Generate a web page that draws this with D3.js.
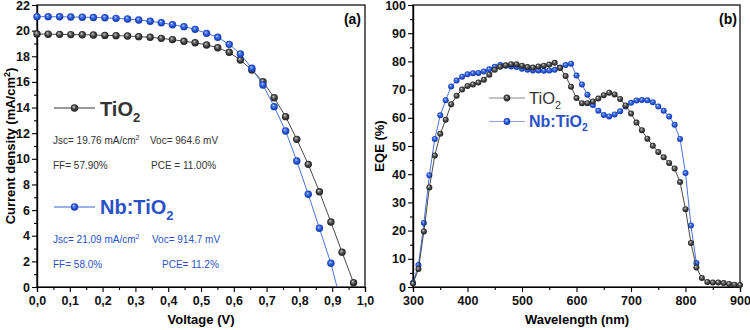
<!DOCTYPE html>
<html>
<head>
<meta charset="utf-8">
<script src="https://cdn.jsdelivr.net/npm/d3@7"></script>
<style>
body { margin: 0; background: #fff; }
svg text { font-family: "Liberation Sans", Arial, sans-serif; }
</style>
</head>
<body>
<div id="container"></div>
<script>
// (a) J-V data
const voltage = [0.000, 0.034, 0.069, 0.103, 0.138, 0.172, 0.207, 0.241, 0.276, 0.310, 0.345, 0.379, 0.413, 0.448,
    0.482, 0.517, 0.551, 0.586, 0.620, 0.655, 0.689, 0.723, 0.758, 0.792, 0.827, 0.861, 0.896, 0.930, 0.965]
const jTiO2 = [19.74, 19.72, 19.71, 19.69, 19.68, 19.66, 19.63, 19.61, 19.58, 19.53, 19.48, 19.40, 19.30, 19.17,
    19.06, 18.88, 18.67, 18.31, 17.71, 16.93, 16.02, 14.77, 13.29, 11.52, 9.57, 7.43, 5.07, 2.71, 0.34]
const jNb = [21.09, 21.09, 21.08, 21.06, 21.05, 21.03, 21.00, 20.96, 20.91, 20.83, 20.73, 20.62, 20.46, 20.31,
    20.10, 19.79, 19.48, 18.93, 18.18, 17.06, 15.76, 14.07, 12.17, 9.83, 7.23, 4.58, 1.85]
const vocTiO2 = 0.9646
const vocNb = 0.9147

// (b) EQE data
const wavelength = [300, 310, 320, 330, 340, 350, 360, 370, 380, 390, 400, 410, 420, 430, 440, 450, 460, 470, 480, 490,
    500, 510, 520, 530, 540, 550, 560, 570, 580, 590, 600, 610, 620, 630, 640, 650, 660, 670, 680, 690,
    700, 710, 720, 730, 740, 750, 760, 770, 780, 790, 800, 810, 820, 830, 840, 850, 860, 870, 880, 890, 900]
const eqeTiO2 = [1.2, 6.4, 19.7, 35.3, 46.6, 54.3, 59.3, 64.8, 67.8, 70.0, 71.3, 71.8, 72.5, 73.5, 75.3, 77.0, 78.1, 78.6, 79.0, 79.0,
    78.5, 78.0, 77.8, 78.2, 78.5, 78.9, 79.5, 77.7, 74.8, 71.0, 67.0, 65.2, 65.2, 65.8, 66.8, 68.0, 68.9, 68.3, 66.7, 64.4,
    61.5, 58.3, 55.6, 52.6, 50.1, 47.9, 46.0, 44.0, 42.0, 37.2, 27.6, 15.6, 6.9, 3.2, 1.8, 1.6, 1.6, 1.4, 1.1, 0.8, 0.7]
const eqeNb = [1.5, 7.8, 22.7, 39.6, 52.5, 60.9, 66.2, 71.1, 73.2, 74.6, 75.4, 75.8, 75.9, 76.4, 77.2, 78.1, 78.7, 78.5, 78.2, 78.0,
    77.4, 77.0, 76.8, 76.8, 76.7, 76.8, 77.0, 77.8, 78.7, 79.2, 75.0, 71.8, 68.2, 64.5, 62.5, 61.0, 60.5, 61.2, 62.3, 64.0,
    65.3, 66.1, 66.3, 66.2, 65.5, 64.0, 62.5, 60.5, 57.5, 52.5, 40.4, 21.8, 8.5]

const voltTicks = [0, 0.1, 0.2, 0.3, 0.4, 0.5, 0.6, 0.7, 0.8, 0.9, 1.0]
const jTicks = [0, 2, 4, 6, 8, 10, 12, 14, 16, 18, 20, 22]
const wlTicks = [300, 400, 500, 600, 700, 800, 900]
const eqeTicks = [0, 10, 20, 30, 40, 50, 60, 70, 80, 90, 100]

const darkCol = '#333'
const blueCol = '#2a52c8'

const width = 750
const height = 330
const svg = d3.select('#container').append('svg').attr('width', width).attr('height', height)

// sphere gradients
const defs = svg.append('defs')
const addGrad = (id, stops) => {
    const g = defs.append('radialGradient').attr('id', id)
        .attr('cx', '50%').attr('cy', '50%').attr('r', '55%').attr('fx', '38%').attr('fy', '32%')
    stops.forEach(s => g.append('stop').attr('offset', s[0]).attr('stop-color', s[1]))
}
addGrad('gDark', [['0%', '#e0e0e0'], ['22%', '#8a8a8a'], ['60%', '#3a3a3a'], ['100%', '#1b1b1b']])
addGrad('gBlue', [['0%', '#dfe8ff'], ['22%', '#5f8af0'], ['60%', '#2352d2'], ['100%', '#12319a']])

const comma = d => d3.format('.1f')(d).replace('.', ',')

const drawAxes = (x, y, xt, yt, xMinor, yMinor, fmtX) => {
    const [x0, x1] = x.range()
    const [y0, y1] = y.range()
    const g = svg.append('g')
    g.append('rect').attr('x', x0).attr('y', y1).attr('width', x1 - x0).attr('height', y0 - y1)
        .attr('fill', 'none').attr('stroke', '#000').attr('stroke-width', 1.2)

    g.append('g').attr('transform', `translate(0, ${y0})`)
        .call(d3.axisBottom(x).tickValues(xMinor).tickSize(3).tickFormat(''))
    g.append('g').attr('transform', `translate(0, ${y0})`)
        .call(d3.axisBottom(x).tickValues(xt).tickSize(5).tickPadding(4).tickFormat(fmtX))
    g.append('g').attr('transform', `translate(${x0}, 0)`)
        .call(d3.axisLeft(y).tickValues(yMinor).tickSize(3).tickFormat(''))
    g.append('g').attr('transform', `translate(${x0}, 0)`)
        .call(d3.axisLeft(y).tickValues(yt).tickSize(5).tickPadding(2).tickFormat(d3.format('d')))

    g.selectAll('.domain').attr('stroke', '#000').attr('stroke-width', 1.2)
    g.selectAll('.tick line').attr('stroke', '#000').attr('stroke-width', 1.1)
    g.selectAll('.tick text').attr('font-size', 12.5).attr('font-weight', 'bold').attr('fill', '#111')
        .style('font-family', '"Liberation Sans", Arial, sans-serif')
}

const drawSeries = (x, y, xs, ys, lineEnd, color, grad, r) => {
    const pts = xs.slice(0, ys.length).map((v, i) => [v, ys[i]])
    const linePts = lineEnd ? pts.concat([lineEnd]) : pts
    svg.append('path').datum(linePts)
        .attr('d', d3.line().x(d => x(d[0])).y(d => y(d[1])))
        .attr('fill', 'none').attr('stroke', color).attr('stroke-width', 0.9)
    svg.append('g').selectAll('circle').data(pts).enter().append('circle')
        .attr('cx', d => x(d[0])).attr('cy', d => y(d[1])).attr('r', r)
        .attr('fill', `url(#${grad})`)
}

const legendItem = (x0, x1, yy, color, grad, r, lineCol) => {
    svg.append('line').attr('x1', x0).attr('x2', x1).attr('y1', yy).attr('y2', yy)
        .attr('stroke', lineCol).attr('stroke-width', 1)
    svg.append('circle').attr('cx', (x0 + x1) / 2).attr('cy', yy).attr('r', r).attr('fill', `url(#${grad})`)
}

const chemText = (x, y, pre, size, weight, color) => {
    const t = svg.append('text').attr('x', x).attr('y', y).attr('font-size', size)
        .attr('font-weight', weight).attr('fill', color)
    t.append('tspan').text(pre + 'TiO')
    t.append('tspan').attr('dy', size * 0.28).attr('font-size', size * 0.65).text('2')
}

const plainText = (x, y, txt, color, sup) => {
    const t = svg.append('text').attr('x', x).attr('y', y).attr('font-size', 10).attr('fill', color)
    t.append('tspan').text(txt)
    if (sup) t.append('tspan').attr('dy', -4).attr('font-size', 7).text(sup)
}

// ----- panel (a)
const xA = d3.scaleLinear().domain([0, 1]).range([37, 365])
const yA = d3.scaleLinear().domain([0, 22]).range([287, 5])
drawAxes(xA, yA, voltTicks, jTicks,
    [0.05, 0.15, 0.25, 0.35, 0.45, 0.55, 0.65, 0.75, 0.85, 0.95],
    [1, 3, 5, 7, 9, 11, 13, 15, 17, 19, 21], comma)

drawSeries(xA, yA, voltage, jTiO2, [vocTiO2, 0], darkCol, 'gDark', 3.7)
drawSeries(xA, yA, voltage, jNb, [vocNb, 0], '#3563d6', 'gBlue', 3.7)

legendItem(54, 95, 108, darkCol, 'gDark', 3.7, darkCol)
chemText(100, 116, '', 20, 'bold', darkCol)
plainText(53, 144, 'Jsc= 19.76 mA/cm', darkCol, '2')
plainText(150, 144, 'Voc= 964.6 mV', darkCol)
plainText(53, 169, 'FF= 57.90%', darkCol)
plainText(151, 169, 'PCE = 11.00%', darkCol)

legendItem(54, 95, 207, blueCol, 'gBlue', 3.7, '#3563d6')
chemText(100, 214, 'Nb:', 20, 'bold', blueCol)
plainText(53, 243, 'Jsc= 21.09 mA/cm', blueCol, '2')
plainText(152, 243, 'Voc= 914.7 mV', blueCol)
plainText(53, 268, 'FF= 58.0%', blueCol)
plainText(162, 268, 'PCE= 11.2%', blueCol)

svg.append('text').attr('x', 361).attr('y', 24).attr('text-anchor', 'end')
    .attr('font-size', 14).attr('font-weight', 'bold').text('(a)')

svg.append('text').attr('x', 201).attr('y', 324).attr('text-anchor', 'middle')
    .attr('font-size', 13).attr('font-weight', 'bold').text('Voltage (V)')
const yLab = svg.append('text').attr('transform', 'translate(15, 146) rotate(-90)')
    .attr('text-anchor', 'middle').attr('font-size', 13).attr('font-weight', 'bold')
yLab.append('tspan').text('Current density (mA/cm')
yLab.append('tspan').attr('dy', -5).attr('font-size', 9).text('2')
yLab.append('tspan').attr('dy', 5).text(')')

// ----- panel (b)
const xB = d3.scaleLinear().domain([300, 900]).range([413, 740])
const yB = d3.scaleLinear().domain([0, 100]).range([287, 5])
drawAxes(xB, yB, wlTicks, eqeTicks,
    [350, 450, 550, 650, 750, 850],
    [5, 15, 25, 35, 45, 55, 65, 75, 85, 95], d3.format('d'))

drawSeries(xB, yB, wavelength, eqeNb, null, '#3563d6', 'gBlue', 3)
drawSeries(xB, yB, wavelength, eqeTiO2, null, darkCol, 'gDark', 3)

legendItem(489, 525, 98, darkCol, 'gDark', 3.4, '#888')
chemText(529, 104, '', 16.5, 'normal', darkCol)
legendItem(489, 525, 121.5, blueCol, 'gBlue', 3.4, '#8fa8e0')
chemText(529, 127, 'Nb:', 16, 'bold', blueCol)

svg.append('text').attr('x', 737).attr('y', 24).attr('text-anchor', 'end')
    .attr('font-size', 14).attr('font-weight', 'bold').text('(b)')

svg.append('text').attr('x', 577).attr('y', 324).attr('text-anchor', 'middle')
    .attr('font-size', 13).attr('font-weight', 'bold').text('Wavelength (nm)')
svg.append('text').attr('transform', 'translate(384, 146) rotate(-90)')
    .attr('text-anchor', 'middle').attr('font-size', 13).attr('font-weight', 'bold').text('EQE (%)')
</script>
</body>
</html>
